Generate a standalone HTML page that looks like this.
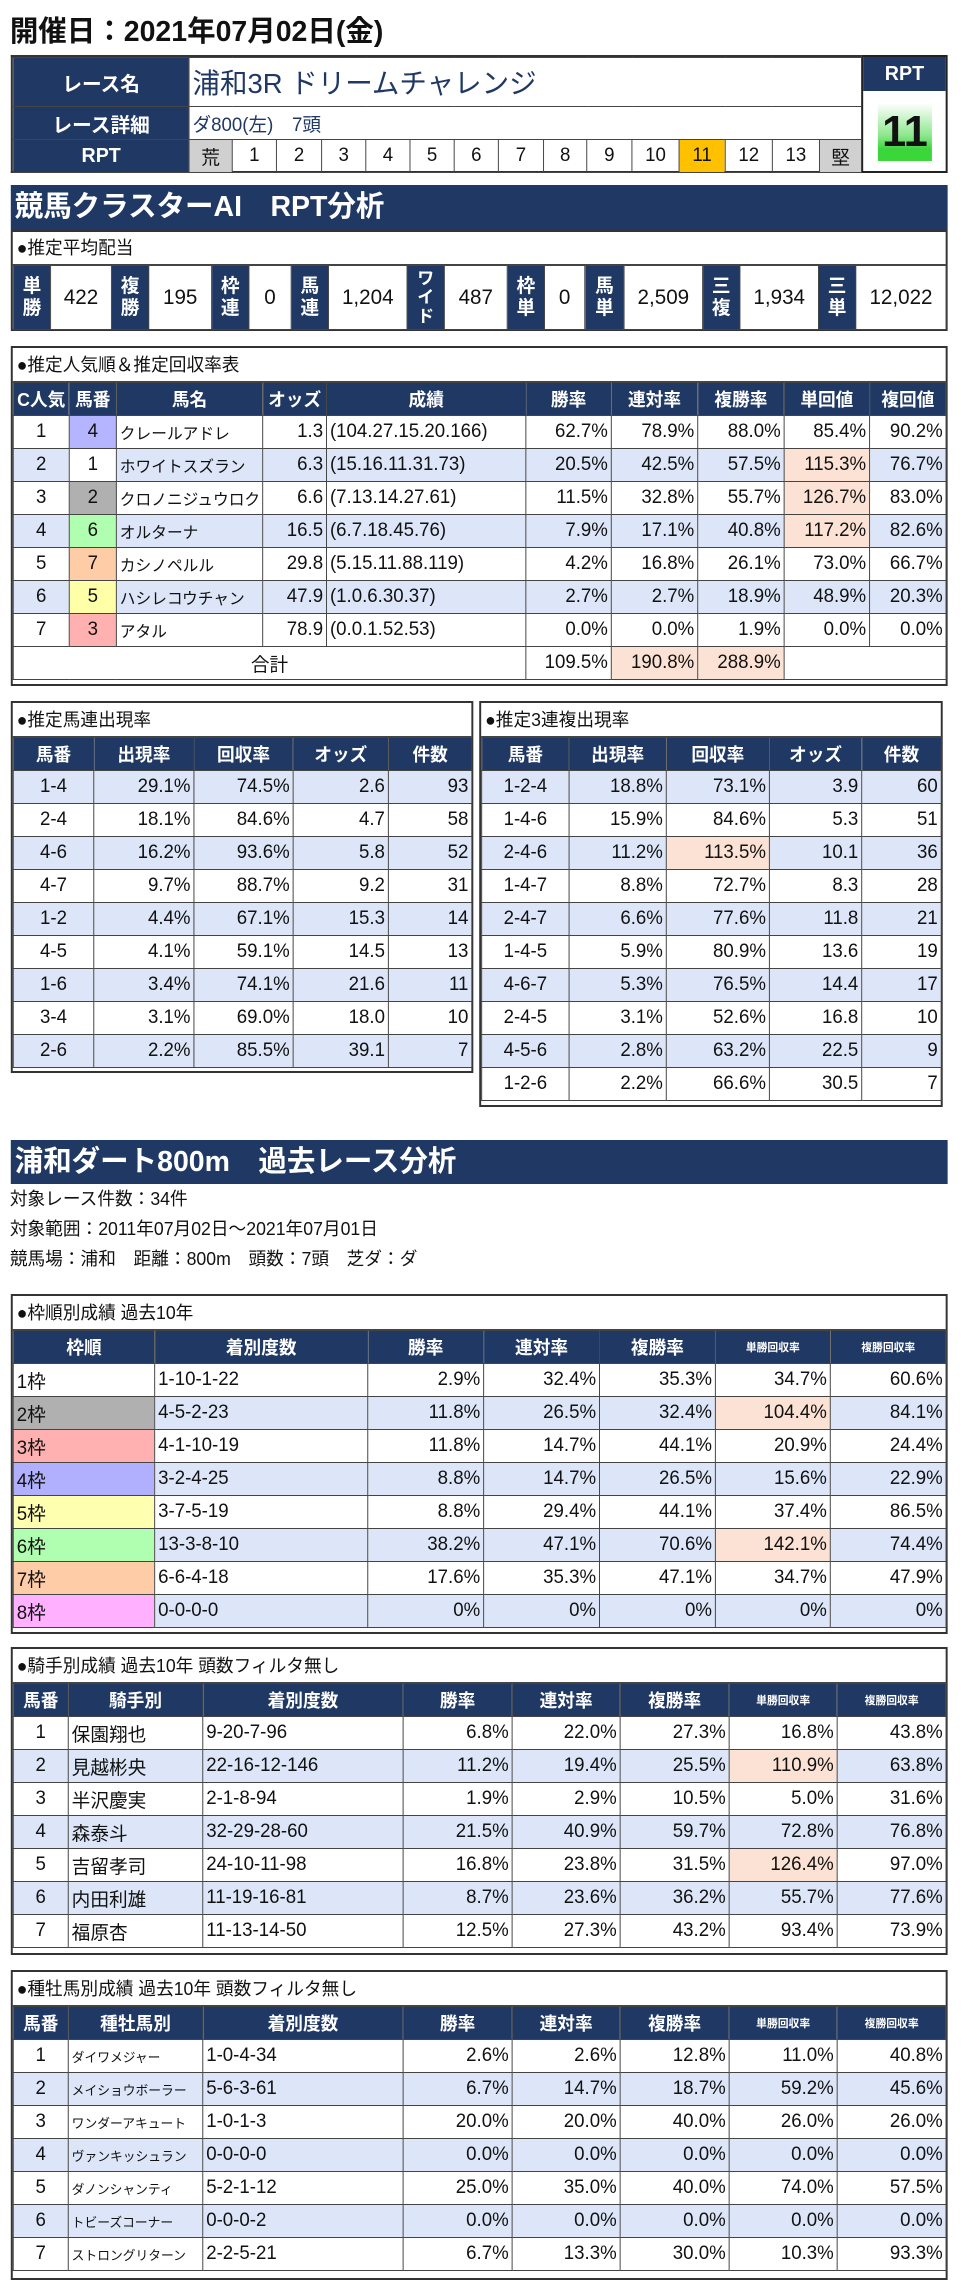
<!DOCTYPE html>
<html><head><meta charset="utf-8">
<style>
*{box-sizing:border-box;margin:0;padding:0}
html,body{width:980px;height:2293px;background:#fff;overflow:hidden}
body{font-family:"Liberation Sans","Noto Sans CJK JP",sans-serif;color:#111;position:relative}
#w{position:absolute;left:0;top:0;width:980px;height:2293px;transform:scaleX(0.982);transform-origin:0 0}
.abs{position:absolute}
.box{position:absolute;border:2px solid #333;background:#fff}
.bt{height:34px;line-height:34px;font-size:18px;padding-left:4px;border-bottom:1px solid #444}
table{border-collapse:collapse;table-layout:fixed;width:100%}
td,th{border:1px solid #444;height:33px;font-size:19px;padding:0 3px;white-space:nowrap;overflow:hidden}
th{background:#203864;color:#fff;font-weight:bold;font-size:18px;text-align:center}
th.s{font-size:11px}
td{text-align:right}
.c{text-align:center}.l{text-align:left}
.b{background:#dce6f8}
.p{background:#fbe2d5}
.sec{position:absolute;left:11px;width:954px;background:#203864;color:#fff;font-weight:bold;font-size:29px;padding-left:4px}
.nm{font-size:16px}
</style></head><body><div id="w">

<div class="abs" style="left:10px;top:12px;font-size:29px;font-weight:bold;line-height:40px">開催日：2021年07月02日(金)</div>

<div class="abs" style="left:11px;top:55px;width:866px;height:118px;border:2px solid #333;border-right:none">
<table style="height:114px">
<colgroup><col style="width:179px"><col style="width:44px"><col style="width:45px"><col style="width:46px"><col style="width:45px"><col style="width:45px"><col style="width:45px"><col style="width:45px"><col style="width:46px"><col style="width:44px"><col style="width:46px"><col style="width:48px"><col style="width:47px"><col style="width:48px"><col style="width:48px"><col style="width:43px"></colgroup>
<tr style="height:49px"><th style="height:49px;font-size:20px">レース名</th><td colspan="15" class="l" style="height:49px;font-size:28px;color:#203864">浦和3R ドリームチャレンジ</td></tr>
<tr style="height:33px"><th style="height:33px;font-size:20px">レース詳細</th><td colspan="15" class="l" style="height:33px;font-size:19px;color:#203864">ダ800(左)　7頭</td></tr>
<tr style="height:32px"><th style="height:32px;font-size:20px">RPT</th>
<td class="c" style="background:#d0d0d0">荒</td><td class="c">1</td><td class="c">2</td><td class="c">3</td><td class="c">4</td><td class="c">5</td><td class="c">6</td><td class="c">7</td><td class="c">8</td><td class="c">9</td><td class="c">10</td><td class="c" style="background:#ffc000">11</td><td class="c">12</td><td class="c">13</td><td class="c" style="background:#d0d0d0">堅</td></tr>
</table></div>
<div class="abs" style="left:877px;top:55px;width:88px;height:118px;border:2px solid #222;background:#fff">
<div style="height:34px;background:#203864;color:#fff;font-weight:bold;font-size:20px;text-align:center;line-height:34px">RPT</div>
<div class="abs" style="left:15px;top:46px;width:55px;height:58px;background:linear-gradient(#fff,#8fe88f 55%,#3ad63a 80%);font-size:44px;font-weight:bold;text-align:center;line-height:58px">11</div>
</div>

<div class="sec" style="top:185px;height:45px;line-height:45px">競馬クラスターAI　RPT分析</div>

<div class="box" style="left:11px;top:230px;width:954px;height:101px">
<div class="bt" style="height:33px;line-height:33px">●推定平均配当</div>
<table><colgroup><col style="width:38px"><col style="width:62px"><col style="width:38px"><col style="width:64px"><col style="width:38px"><col style="width:43px"><col style="width:38px"><col style="width:80px"><col style="width:38px"><col style="width:64px"><col style="width:38px"><col style="width:41px"><col style="width:40px"><col style="width:80px"><col style="width:38px"><col style="width:80px"><col style="width:38px"><col style="width:92px"></colgroup>
<tr style="height:64px">
<th style="height:64px;font-size:19px;line-height:22px">単<br>勝</th><td class="c" style="font-size:21px">422</td>
<th style="font-size:19px;line-height:22px">複<br>勝</th><td class="c" style="font-size:21px">195</td>
<th style="font-size:19px;line-height:22px">枠<br>連</th><td class="c" style="font-size:21px">0</td>
<th style="font-size:19px;line-height:22px">馬<br>連</th><td class="c" style="font-size:21px">1,204</td>
<th style="font-size:17px;line-height:19px">ワ<br>イ<br>ド</th><td class="c" style="font-size:21px">487</td>
<th style="font-size:19px;line-height:22px">枠<br>単</th><td class="c" style="font-size:21px">0</td>
<th style="font-size:19px;line-height:22px">馬<br>単</th><td class="c" style="font-size:21px">2,509</td>
<th style="font-size:19px;line-height:22px">三<br>複</th><td class="c" style="font-size:21px">1,934</td>
<th style="font-size:19px;line-height:22px">三<br>単</th><td class="c" style="font-size:21px">12,022</td>
</tr></table></div>

<div class="box" style="left:11px;top:346px;width:954px;height:340px">
<div class="bt">●推定人気順＆推定回収率表</div>
<table><colgroup><col style="width:57px"><col style="width:48px"><col style="width:149px"><col style="width:65px"><col style="width:203px"><col style="width:87px"><col style="width:88px"><col style="width:88px"><col style="width:87px"><col style="width:78px"></colgroup>
<tr><th>C人気</th><th>馬番</th><th>馬名</th><th>オッズ</th><th>成績</th><th>勝率</th><th>連対率</th><th>複勝率</th><th>単回値</th><th>複回値</th></tr>
<tr><td class="c">1</td><td class="c" style="background:#b4b4ff">4</td><td class="l nm">クレールアドレ</td><td>1.3</td><td class="l">(104.27.15.20.166)</td><td>62.7%</td><td>78.9%</td><td>88.0%</td><td>85.4%</td><td>90.2%</td></tr>
<tr class="b"><td class="c">2</td><td class="c" style="background:#fff">1</td><td class="l nm">ホワイトスズラン</td><td>6.3</td><td class="l">(15.16.11.31.73)</td><td>20.5%</td><td>42.5%</td><td>57.5%</td><td class="p">115.3%</td><td>76.7%</td></tr>
<tr><td class="c">3</td><td class="c" style="background:#b0b0b0">2</td><td class="l nm">クロノニジュウロク</td><td>6.6</td><td class="l">(7.13.14.27.61)</td><td>11.5%</td><td>32.8%</td><td>55.7%</td><td class="p">126.7%</td><td>83.0%</td></tr>
<tr class="b"><td class="c">4</td><td class="c" style="background:#b0ffb0">6</td><td class="l nm">オルターナ</td><td>16.5</td><td class="l">(6.7.18.45.76)</td><td>7.9%</td><td>17.1%</td><td>40.8%</td><td class="p">117.2%</td><td>82.6%</td></tr>
<tr><td class="c">5</td><td class="c" style="background:#ffcca8">7</td><td class="l nm">カシノペルル</td><td>29.8</td><td class="l">(5.15.11.88.119)</td><td>4.2%</td><td>16.8%</td><td>26.1%</td><td>73.0%</td><td>66.7%</td></tr>
<tr class="b"><td class="c">6</td><td class="c" style="background:#ffffa8">5</td><td class="l nm">ハシレコウチャン</td><td>47.9</td><td class="l">(1.0.6.30.37)</td><td>2.7%</td><td>2.7%</td><td>18.9%</td><td>48.9%</td><td>20.3%</td></tr>
<tr><td class="c">7</td><td class="c" style="background:#ffb0b0">3</td><td class="l nm">アタル</td><td>78.9</td><td class="l">(0.0.1.52.53)</td><td>0.0%</td><td>0.0%</td><td>1.9%</td><td>0.0%</td><td>0.0%</td></tr>
<tr><td colspan="5" class="c">合計</td><td>109.5%</td><td class="p">190.8%</td><td class="p">288.9%</td><td colspan="2"></td></tr>
</table></div>

<div class="box" style="left:11px;top:701px;width:471px;height:372px">
<div class="bt">●推定馬連出現率</div>
<table><colgroup><col style="width:82px"><col style="width:102px"><col style="width:101px"><col style="width:97px"><col style="width:85px"></colgroup>
<tr><th>馬番</th><th>出現率</th><th>回収率</th><th>オッズ</th><th>件数</th></tr>
<tr class="b"><td class="c">1-4</td><td>29.1%</td><td>74.5%</td><td>2.6</td><td>93</td></tr>
<tr><td class="c">2-4</td><td>18.1%</td><td>84.6%</td><td>4.7</td><td>58</td></tr>
<tr class="b"><td class="c">4-6</td><td>16.2%</td><td>93.6%</td><td>5.8</td><td>52</td></tr>
<tr><td class="c">4-7</td><td>9.7%</td><td>88.7%</td><td>9.2</td><td>31</td></tr>
<tr class="b"><td class="c">1-2</td><td>4.4%</td><td>67.1%</td><td>15.3</td><td>14</td></tr>
<tr><td class="c">4-5</td><td>4.1%</td><td>59.1%</td><td>14.5</td><td>13</td></tr>
<tr class="b"><td class="c">1-6</td><td>3.4%</td><td>74.1%</td><td>21.6</td><td>11</td></tr>
<tr><td class="c">3-4</td><td>3.1%</td><td>69.0%</td><td>18.0</td><td>10</td></tr>
<tr class="b"><td class="c">2-6</td><td>2.2%</td><td>85.5%</td><td>39.1</td><td>7</td></tr>
</table></div>

<div class="box" style="left:488px;top:701px;width:472px;height:406px">
<div class="bt">●推定3連複出現率</div>
<table><colgroup><col style="width:89px"><col style="width:99px"><col style="width:105px"><col style="width:94px"><col style="width:81px"></colgroup>
<tr><th>馬番</th><th>出現率</th><th>回収率</th><th>オッズ</th><th>件数</th></tr>
<tr class="b"><td class="c">1-2-4</td><td>18.8%</td><td>73.1%</td><td>3.9</td><td>60</td></tr>
<tr><td class="c">1-4-6</td><td>15.9%</td><td>84.6%</td><td>5.3</td><td>51</td></tr>
<tr class="b"><td class="c">2-4-6</td><td>11.2%</td><td class="p">113.5%</td><td>10.1</td><td>36</td></tr>
<tr><td class="c">1-4-7</td><td>8.8%</td><td>72.7%</td><td>8.3</td><td>28</td></tr>
<tr class="b"><td class="c">2-4-7</td><td>6.6%</td><td>77.6%</td><td>11.8</td><td>21</td></tr>
<tr><td class="c">1-4-5</td><td>5.9%</td><td>80.9%</td><td>13.6</td><td>19</td></tr>
<tr class="b"><td class="c">4-6-7</td><td>5.3%</td><td>76.5%</td><td>14.4</td><td>17</td></tr>
<tr><td class="c">2-4-5</td><td>3.1%</td><td>52.6%</td><td>16.8</td><td>10</td></tr>
<tr class="b"><td class="c">4-5-6</td><td>2.8%</td><td>63.2%</td><td>22.5</td><td>9</td></tr>
<tr><td class="c">1-2-6</td><td>2.2%</td><td>66.6%</td><td>30.5</td><td>7</td></tr>
</table></div>

<div class="sec" style="top:1140px;height:44px;line-height:44px">浦和ダート800m　過去レース分析</div>
<div class="abs" style="left:10px;top:1184px;font-size:18px;line-height:30px">対象レース件数：34件<br>対象範囲：2011年07月02日～2021年07月01日<br>競馬場：浦和　距離：800m　頭数：7頭　芝ダ：ダ</div>

<div class="box" style="left:11px;top:1294px;width:954px;height:340px">
<div class="bt">●枠順別成績 過去10年</div>
<table><colgroup><col style="width:144px"><col style="width:217px"><col style="width:118px"><col style="width:118px"><col style="width:118px"><col style="width:117px"><col style="width:118px"></colgroup>
<tr><th>枠順</th><th>着別度数</th><th>勝率</th><th>連対率</th><th>複勝率</th><th class="s">単勝回収率</th><th class="s">複勝回収率</th></tr>
<tr><td class="l">1枠</td><td class="l">1-10-1-22</td><td>2.9%</td><td>32.4%</td><td>35.3%</td><td>34.7%</td><td>60.6%</td></tr>
<tr class="b"><td class="l" style="background:#b0b0b0">2枠</td><td class="l">4-5-2-23</td><td>11.8%</td><td>26.5%</td><td>32.4%</td><td class="p">104.4%</td><td>84.1%</td></tr>
<tr><td class="l" style="background:#ffb0b0">3枠</td><td class="l">4-1-10-19</td><td>11.8%</td><td>14.7%</td><td>44.1%</td><td>20.9%</td><td>24.4%</td></tr>
<tr class="b"><td class="l" style="background:#b0b0ff">4枠</td><td class="l">3-2-4-25</td><td>8.8%</td><td>14.7%</td><td>26.5%</td><td>15.6%</td><td>22.9%</td></tr>
<tr><td class="l" style="background:#ffffb0">5枠</td><td class="l">3-7-5-19</td><td>8.8%</td><td>29.4%</td><td>44.1%</td><td>37.4%</td><td>86.5%</td></tr>
<tr class="b"><td class="l" style="background:#b0ffb0">6枠</td><td class="l">13-3-8-10</td><td>38.2%</td><td>47.1%</td><td>70.6%</td><td class="p">142.1%</td><td>74.4%</td></tr>
<tr><td class="l" style="background:#ffcca8">7枠</td><td class="l">6-6-4-18</td><td>17.6%</td><td>35.3%</td><td>47.1%</td><td>34.7%</td><td>47.9%</td></tr>
<tr class="b"><td class="l" style="background:#ffb0ff">8枠</td><td class="l">0-0-0-0</td><td>0%</td><td>0%</td><td>0%</td><td>0%</td><td>0%</td></tr>
</table></div>

<div class="box" style="left:11px;top:1647px;width:954px;height:308px">
<div class="bt">●騎手別成績 過去10年 頭数フィルタ無し</div>
<table><colgroup><col style="width:56px"><col style="width:137px"><col style="width:204px"><col style="width:111px"><col style="width:110px"><col style="width:111px"><col style="width:110px"><col style="width:111px"></colgroup>
<tr><th>馬番</th><th>騎手別</th><th>着別度数</th><th>勝率</th><th>連対率</th><th>複勝率</th><th class="s">単勝回収率</th><th class="s">複勝回収率</th></tr>
<tr><td class="c">1</td><td class="l">保園翔也</td><td class="l">9-20-7-96</td><td>6.8%</td><td>22.0%</td><td>27.3%</td><td>16.8%</td><td>43.8%</td></tr>
<tr class="b"><td class="c">2</td><td class="l">見越彬央</td><td class="l">22-16-12-146</td><td>11.2%</td><td>19.4%</td><td>25.5%</td><td class="p">110.9%</td><td>63.8%</td></tr>
<tr><td class="c">3</td><td class="l">半沢慶実</td><td class="l">2-1-8-94</td><td>1.9%</td><td>2.9%</td><td>10.5%</td><td>5.0%</td><td>31.6%</td></tr>
<tr class="b"><td class="c">4</td><td class="l">森泰斗</td><td class="l">32-29-28-60</td><td>21.5%</td><td>40.9%</td><td>59.7%</td><td>72.8%</td><td>76.8%</td></tr>
<tr><td class="c">5</td><td class="l">吉留孝司</td><td class="l">24-10-11-98</td><td>16.8%</td><td>23.8%</td><td>31.5%</td><td class="p">126.4%</td><td>97.0%</td></tr>
<tr class="b"><td class="c">6</td><td class="l">内田利雄</td><td class="l">11-19-16-81</td><td>8.7%</td><td>23.6%</td><td>36.2%</td><td>55.7%</td><td>77.6%</td></tr>
<tr><td class="c">7</td><td class="l">福原杏</td><td class="l">11-13-14-50</td><td>12.5%</td><td>27.3%</td><td>43.2%</td><td>93.4%</td><td>73.9%</td></tr>
</table></div>

<div class="box" style="left:11px;top:1970px;width:954px;height:310px">
<div class="bt">●種牡馬別成績 過去10年 頭数フィルタ無し</div>
<table><colgroup><col style="width:56px"><col style="width:137px"><col style="width:204px"><col style="width:111px"><col style="width:110px"><col style="width:111px"><col style="width:110px"><col style="width:111px"></colgroup>
<tr><th>馬番</th><th>種牡馬別</th><th>着別度数</th><th>勝率</th><th>連対率</th><th>複勝率</th><th class="s">単勝回収率</th><th class="s">複勝回収率</th></tr>
<tr><td class="c">1</td><td class="l" style="font-size:13px">ダイワメジャー</td><td class="l">1-0-4-34</td><td>2.6%</td><td>2.6%</td><td>12.8%</td><td>11.0%</td><td>40.8%</td></tr>
<tr class="b"><td class="c">2</td><td class="l" style="font-size:13px">メイショウボーラー</td><td class="l">5-6-3-61</td><td>6.7%</td><td>14.7%</td><td>18.7%</td><td>59.2%</td><td>45.6%</td></tr>
<tr><td class="c">3</td><td class="l" style="font-size:13px">ワンダーアキュート</td><td class="l">1-0-1-3</td><td>20.0%</td><td>20.0%</td><td>40.0%</td><td>26.0%</td><td>26.0%</td></tr>
<tr class="b"><td class="c">4</td><td class="l" style="font-size:13px">ヴァンキッシュラン</td><td class="l">0-0-0-0</td><td>0.0%</td><td>0.0%</td><td>0.0%</td><td>0.0%</td><td>0.0%</td></tr>
<tr><td class="c">5</td><td class="l" style="font-size:13px">ダノンシャンティ</td><td class="l">5-2-1-12</td><td>25.0%</td><td>35.0%</td><td>40.0%</td><td>74.0%</td><td>57.5%</td></tr>
<tr class="b"><td class="c">6</td><td class="l" style="font-size:13px">トビーズコーナー</td><td class="l">0-0-0-2</td><td>0.0%</td><td>0.0%</td><td>0.0%</td><td>0.0%</td><td>0.0%</td></tr>
<tr><td class="c">7</td><td class="l" style="font-size:13px">ストロングリターン</td><td class="l">2-2-5-21</td><td>6.7%</td><td>13.3%</td><td>30.0%</td><td>10.3%</td><td>93.3%</td></tr>
</table></div>

</div></body></html>
